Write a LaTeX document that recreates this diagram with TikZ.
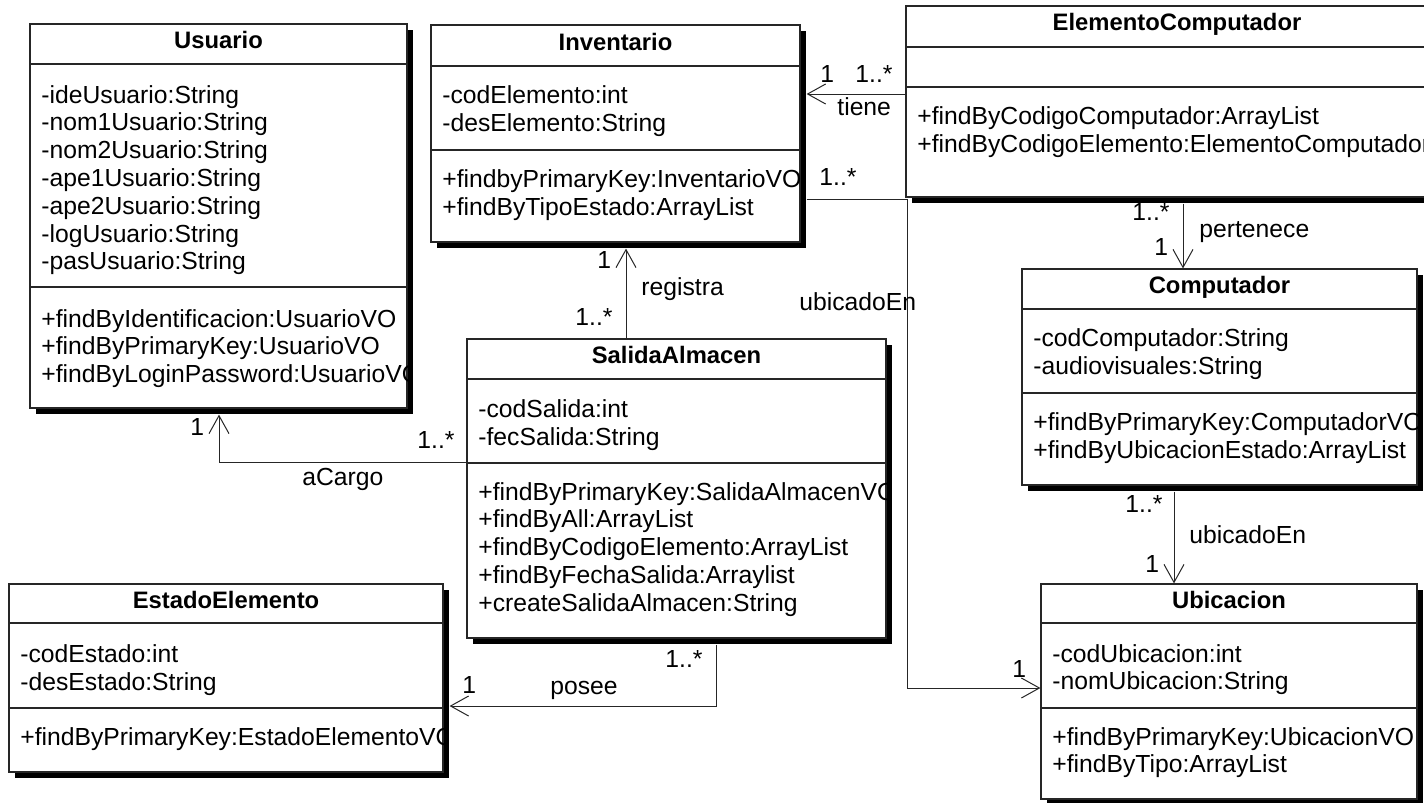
\documentclass[tikz,border=0pt]{standalone}
\usepackage{fontspec}
\setmainfont{Liberation Sans}
\usetikzlibrary{arrows.meta,shadows,fit}
\begin{document}
\begin{tikzpicture}[x=0.5pt,y=-0.5pt,
  font=\fontsize{12.35}{14}\selectfont,
  cls/.style={draw=black!85, line width=0.6pt, fill=white, inner sep=0pt,
    drop shadow={shadow xshift=3pt, shadow yshift=-3pt, fill=black, opacity=1}},
  sepline/.style={draw=black!85, line width=0.6pt},
  ttl/.style={anchor=base, inner sep=0pt, font=\fontsize{11.9}{14}\selectfont\bfseries},
  mem/.style={anchor=base west, inner sep=0pt},
  lbl/.style={anchor=base west, inner sep=0pt},
  assoc/.style={draw=black!85, line width=0.5pt},
  nav/.style={assoc, -{Straight Barb[length=9pt,width=10pt,line width=0.5pt]}}
]
\useasboundingbox (0,0) rectangle (1424,803);
\fill[white] (0,0) rectangle (1424,803);

% ---------- Usuario
\node[cls, fit={(30,24) (407,408)}] (usu) {};
\draw[sepline] (30,64) -- (407,64);
\draw[sepline] (30,287) -- (407,287);
\begin{scope}
\clip (30,24) rectangle (407,408);
\node[ttl] (usu-t) at (218.5,48) {Usuario};
\foreach \t [count=\i from 0] in {-ideUsuario:String,-nom1Usuario:String,-nom2Usuario:String,-ape1Usuario:String,-ape2Usuario:String,-logUsuario:String,-pasUsuario:String}
  \node[mem] (usu-a\i) at (41,{103+27.8*\i}) {\t};
\foreach \t [count=\i from 0] in {+findByIdentificacion:UsuarioVO,+findByPrimaryKey:UsuarioVO,+findByLoginPassword:UsuarioVO}
  \node[mem] (usu-m\i) at (41,{327+27.8*\i}) {\t};
\end{scope}

% ---------- Inventario
\node[cls, fit={(431,25) (800,242)}] (inv) {};
\draw[sepline] (431,66) -- (800,66);
\draw[sepline] (431,150) -- (800,150);
\begin{scope}
\clip (431,25) rectangle (800,242);
\node[ttl] (inv-t) at (615.5,50) {Inventario};
\node[mem] (inv-a0) at (442,103) {-codElemento:int};
\node[mem] (inv-a1) at (442,131) {-desElemento:String};
\node[mem] (inv-m0) at (442,187) {+findbyPrimaryKey:InventarioVO};
\node[mem] (inv-m1) at (442,215) {+findByTipoEstado:ArrayList};
\end{scope}

% ---------- ElementoComputador
\node[cls, fit={(906,6) (1448,197)}] (ec) {};
\draw[sepline] (906,47) -- (1448,47);
\draw[sepline] (906,87) -- (1448,87);
\begin{scope}
\clip (906,6) rectangle (1448,197);
\node[ttl] (ec-t) at (1177,30) {ElementoComputador};
\node[mem] (ec-m0) at (917,124) {+findByCodigoComputador:ArrayList};
\node[mem] (ec-m1) at (917,152) {+findByCodigoElemento:ElementoComputador};
\end{scope}

% ---------- Computador
\node[cls, fit={(1022,269) (1417,485)}] (comp) {};
\draw[sepline] (1022,309) -- (1417,309);
\draw[sepline] (1022,393) -- (1417,393);
\begin{scope}
\clip (1022,269) rectangle (1417,485);
\node[ttl] (comp-t) at (1219.5,293) {Computador};
\node[mem] (comp-a0) at (1033,346) {-codComputador:String};
\node[mem] (comp-a1) at (1033,374) {-audiovisuales:String};
\node[mem] (comp-m0) at (1033,430) {+findByPrimaryKey:ComputadorVO};
\node[mem] (comp-m1) at (1033,458) {+findByUbicacionEstado:ArrayList};
\end{scope}

% ---------- Ubicacion
\node[cls, fit={(1041,584) (1417,799)}] (ubic) {};
\draw[sepline] (1041,623) -- (1417,623);
\draw[sepline] (1041,708) -- (1417,708);
\begin{scope}
\clip (1041,584) rectangle (1417,799);
\node[ttl] (ubic-t) at (1229,608) {Ubicacion};
\node[mem] (ubic-a0) at (1052,662) {-codUbicacion:int};
\node[mem] (ubic-a1) at (1052,689) {-nomUbicacion:String};
\node[mem] (ubic-m0) at (1052,745) {+findByPrimaryKey:UbicacionVO};
\node[mem] (ubic-m1) at (1052,772) {+findByTipo:ArrayList};
\end{scope}

% ---------- SalidaAlmacen
\node[cls, fit={(467,339) (886,638)}] (sal) {};
\draw[sepline] (467,379) -- (886,379);
\draw[sepline] (467,463) -- (886,463);
\begin{scope}
\clip (467,339) rectangle (886,638);
\node[ttl] (sal-t) at (676.5,363) {SalidaAlmacen};
\node[mem] (sal-a0) at (478,417) {-codSalida:int};
\node[mem] (sal-a1) at (478,445) {-fecSalida:String};
\foreach \t [count=\i from 0] in {+findByPrimaryKey:SalidaAlmacenVO,+findByAll:ArrayList,+findByCodigoElemento:ArrayList,+findByFechaSalida:Arraylist,+createSalidaAlmacen:String}
  \node[mem] (sal-m\i) at (478,{500+27.8*\i}) {\t};
\end{scope}

% ---------- EstadoElemento
\node[cls, fit={(9,584) (443,772)}] (est) {};
\draw[sepline] (9,623) -- (443,623);
\draw[sepline] (9,708) -- (443,708);
\begin{scope}
\clip (9,584) rectangle (443,772);
\node[ttl] (est-t) at (226,608) {EstadoElemento};
\node[mem] (est-a0) at (20,662) {-codEstado:int};
\node[mem] (est-a1) at (20,690) {-desEstado:String};
\node[mem] (est-m0) at (20,745) {+findByPrimaryKey:EstadoElementoVO};
\end{scope}

% ---------- shadow corners (connector ends)
\coordinate (usush) at ([shift={(6,6)}]usu.south east);
\coordinate (invsh) at ([shift={(6,6)}]inv.south east);
\coordinate (ecsh)  at ([shift={(6,6)}]ec.south east);
\coordinate (compsh) at ([shift={(6,6)}]comp.south east);
\coordinate (salsh) at ([shift={(6,6)}]sal.south east);
\coordinate (estsh) at ([shift={(6,6)}]est.south east);
\coordinate (bend1) at (907,199);
\coordinate (bend2) at (907,688);

% ---------- connectors
% tiene
\draw[nav] (ec.west |- 0,94) -- (invsh |- 0,94);
\node[lbl] (l-tiene-1) at (820,82) {1};
\node[lbl] (l-tiene-n) at (855,82) {1..*};
\node[lbl] (l-tiene) at (837,115) {tiene};

% ubicadoEn (Inventario -> Ubicacion)
\draw[nav] (invsh |- bend1) -- (bend1) -- (bend2) -- (ubic.west |- bend2);
\node[lbl] (l-ub1-n) at (819,185) {1..*};
\node[lbl] (l-ub1) at (799,310) {ubicadoEn};
\node[lbl] (l-ub1-1) at (1012,677) {1};

% registra
\draw[nav] (626,0 |- sal.north) -- (626,0 |- invsh);
\node[lbl] (l-reg-1) at (597,268) {1};
\node[lbl] (l-reg-n) at (575,325) {1..*};
\node[lbl] (l-reg) at (641,295) {registra};

% aCargo
\draw[nav] (sal.west |- 0,462) -| (219,0 |- usush);
\node[lbl] (l-ac-1) at (190,435) {1};
\node[lbl] (l-ac-n) at (417,448) {1..*};
\node[lbl] (l-ac) at (302,485) {aCargo};

% posee
\draw[nav] (716,0 |- salsh) |- (estsh |- 0,706);
\node[lbl] (l-po-n) at (665,667) {1..*};
\node[lbl] (l-po) at (550,694) {posee};
\node[lbl] (l-po-1) at (462,693) {1};

% pertenece
\draw[nav] (1183,0 |- ecsh) -- (1183,0 |- comp.north);
\node[lbl] (l-pe-n) at (1132,220) {1..*};
\node[lbl] (l-pe-1) at (1154,255) {1};
\node[lbl] (l-pe) at (1199,237) {pertenece};

% ubicadoEn (Computador -> Ubicacion)
\draw[nav] (1174,0 |- compsh) -- (1174,0 |- ubic.north);
\node[lbl] (l-ub2-n) at (1125,512) {1..*};
\node[lbl] (l-ub2) at (1189,543) {ubicadoEn};
\node[lbl] (l-ub2-1) at (1145,572) {1};
\end{tikzpicture}
\end{document}
